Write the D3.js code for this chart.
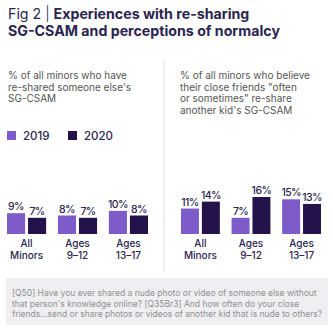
<!DOCTYPE html>
<html>
<head>
<meta charset="utf-8">
<script src="https://cdnjs.cloudflare.com/ajax/libs/d3/7.8.5/d3.min.js"></script>
<style>
  body { margin: 0; background: #fff; }
  svg { display: block; font-family: Inter, "Noto Sans", sans-serif; }
</style>
</head>
<body>
<div id="chart"></div>
<script>
// data
var years = ["2019", "2020"];
var categories = ["All Minors", "Ages 9-12", "Ages 13-17"];
var catLines = [["All", "Minors"], ["Ages", "9\u201312"], ["Ages", "13\u201317"]];
var reshared = [[9, 7], [8, 7], [10, 8]];
var friendsReshare = [[11, 14], [7, 16], [15, 13]];

var titleLines = ["Experiences with re-sharing", "SG-CSAM and perceptions of normalcy"];
var leftSub = ["% of all minors who have", "re-shared someone else's", "SG-CSAM"];
var rightSub = ["% of all minors who believe", "their close friends \"often", "or sometimes\" re-share", "another kid's SG-CSAM"];
var footLines = [
    "[Q50] Have you ever shared a nude photo or video of someone else without",
    "that person's knowledge online? [Q35Br3] And how often do your close",
    "friends...send or share photos or videos of another kid that is nude to others?"
];

var colors = {"2019": "#7d5cc9", "2020": "#24134a"};
var navy = "#2b2550";

var svgwidth = 333, svgheight = 330;
var svg = d3.select("#chart").append("svg")
    .attr("width", svgwidth)
    .attr("height", svgheight);

// title
var title = svg.append("text")
    .attr("x", 8).attr("y", 19)
    .attr("fill", navy)
    .style("font-size", "14.2px");
title.append("tspan").text("Fig 2 ").style("font-weight", 400);
title.append("tspan").text("| ").style("font-weight", 300);
title.append("tspan").text(titleLines[0]).style("font-weight", 700);
svg.append("text")
    .attr("x", 8).attr("y", 36)
    .attr("fill", navy)
    .style("font-size", "14.2px")
    .style("font-weight", 700)
    .text(titleLines[1]);

// divider
svg.append("line")
    .attr("x1", 164).attr("x2", 164)
    .attr("y1", 60).attr("y2", 272)
    .attr("stroke", "#ededee")
    .attr("stroke-width", 1.5);

function subtitle(lines, x) {
    svg.selectAll(null)
        .data(lines)
        .enter().append("text")
        .attr("x", x)
        .attr("y", function(d, i) { return 79 + i * 11.5; })
        .attr("fill", "#555")
        .style("font-size", "10px")
        .text(function(d) { return d; });
}
subtitle(leftSub, 8);
subtitle(rightSub, 180);

// legend
var legend = svg.append("g").selectAll("g")
    .data(years)
    .enter().append("g")
    .attr("transform", function(d, i) { return "translate(" + (7 + i * 61) + ",131)"; });
legend.append("rect")
    .attr("width", 9).attr("height", 9)
    .attr("fill", function(d) { return colors[d]; });
legend.append("text")
    .attr("x", 16).attr("y", 8.5)
    .attr("fill", navy)
    .style("font-size", "11.5px")
    .style("font-weight", 500)
    .text(function(d) { return d; });

var y = d3.scaleLinear().domain([0, 16]).range([234, 197]);

function panel(values, x0, x1) {
    var x = d3.scaleBand().domain(categories).range([x0, x1]).paddingInner(0.232);
    var xs = d3.scaleBand().domain(years).range([0, x.bandwidth()]).paddingInner(0.14);
    var g = svg.append("g");

    var groups = g.selectAll(".grp")
        .data(categories)
        .enter().append("g")
        .attr("class", "grp")
        .attr("transform", function(d) { return "translate(" + x(d) + ",0)"; });

    var bars = groups.selectAll("rect")
        .data(function(d, i) {
            return years.map(function(yr, j) { return {year: yr, v: values[i][j]}; });
        })
        .enter();
    bars.append("rect")
        .attr("x", function(d) { return xs(d.year); })
        .attr("y", function(d) { return y(d.v); })
        .attr("width", xs.bandwidth())
        .attr("height", function(d) { return y(0) - y(d.v); })
        .attr("fill", function(d) { return colors[d.year]; });
    bars.append("text")
        .attr("x", function(d) { return xs(d.year) + xs.bandwidth() / 2; })
        .attr("y", function(d) { return y(d.v) - 3; })
        .attr("text-anchor", "middle")
        .attr("fill", navy)
        .style("font-size", "10.5px")
        .style("font-weight", 500)
        .style("letter-spacing", "-0.6px")
        .text(function(d) { return d.v + "%"; });

    groups.each(function(d, i) {
        d3.select(this).selectAll(".cat")
            .data(catLines[i])
            .enter().append("text")
            .attr("class", "cat")
            .attr("x", x.bandwidth() / 2)
            .attr("y", function(t, k) { return 247 + k * 11.5; })
            .attr("text-anchor", "middle")
            .attr("fill", navy)
            .style("font-size", "10px")
            .style("font-weight", 500)
            .text(function(t) { return t; });
    });
}
panel(reshared, 7, 148);
panel(friendsReshare, 181, 321);

// footnote
svg.append("rect")
    .attr("x", 6).attr("y", 278)
    .attr("width", 322).attr("height", 47)
    .attr("fill", "#efeff1");
svg.selectAll(".foot")
    .data(footLines)
    .enter().append("text")
    .attr("class", "foot")
    .attr("x", 12)
    .attr("y", function(d, i) { return 296 + i * 10.5; })
    .attr("fill", "#909094")
    .style("font-size", "8.5px")
    .text(function(d) { return d; });
</script>
</body>
</html>
